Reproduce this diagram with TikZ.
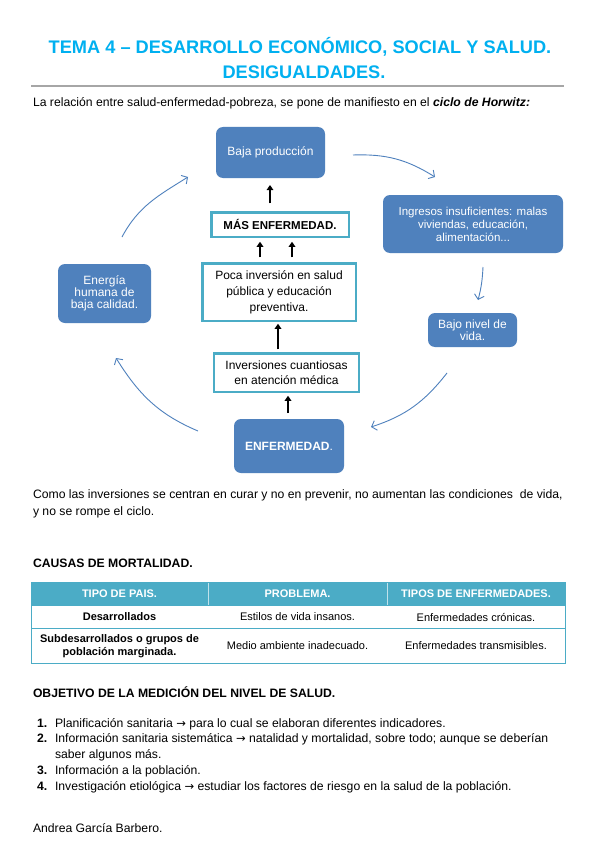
\documentclass[tikz,border=0pt]{standalone}
\usepackage{fontspec}
\setmainfont{Liberation Sans}
\newfontfamily\dejavu{DejaVu Sans}
\usetikzlibrary{arrows.meta,calc}
\definecolor{ttl}{HTML}{00B0F0}
\definecolor{sa}{HTML}{4F81BD}
\definecolor{tealb}{HTML}{4BACC6}
\definecolor{rulegray}{HTML}{A6A6A6}
\tikzset{
  sabox/.style={fill=sa, rounded corners=7pt, text=white, align=center,
    font=\fontsize{12}{12.2}\selectfont},
  tbox/.style={draw=tealb, line width=2.5pt, fill=white, align=center,
    font=\fontsize{12}{16}\selectfont},
  cyc/.style={draw=sa, line width=0.9pt, -{Straight Barb[length=4.5pt,width=10pt]}},
  blk/.style={line width=1.7pt, -{Triangle[length=5pt,width=6.5pt]}},
  body/.style={font=\fontsize{12.2}{14}\selectfont, anchor=base west},
  bodyb/.style={font=\fontsize{12.2}{14}\selectfont\bfseries, anchor=base west},
  ttlstyle/.style={font=\fontsize{18.2}{22}\selectfont\bfseries, text=ttl, anchor=base},
  thead/.style={font=\fontsize{11}{13}\selectfont\bfseries, text=white},
  tcell/.style={font=\fontsize{11}{12.5}\selectfont, align=center},
}
\newcommand{\rarr}{{\dejavu\fontsize{11.5}{12}\selectfont →}}
\begin{document}
\begin{tikzpicture}[x=1pt,y=1pt, every node/.style={inner sep=0pt, outer sep=0pt}]
\useasboundingbox (0,0) rectangle (599,-848);
\fill[white] (0,0) rectangle (599,-848);

% title
\node[ttlstyle] (t1) at (300,-53.5) {TEMA 4 – DESARROLLO ECONÓMICO, SOCIAL Y SALUD.};
\node[ttlstyle] (t2) at (304,-78.5) {DESIGUALDADES.};
\draw[rulegray, line width=2.2pt] (31,-86) -- (564,-86);

\node[body] (intro) at (33,-107) {La relación entre salud-enfermedad-pobreza, se pone de manifiesto en el \textbf{\textit{ciclo de Horwitz:}}};

% cycle boxes
\node[sabox, minimum width=109pt, minimum height=51pt] (bp) at (270.5,-152.5) {Baja producción};
\node[sabox, minimum width=180pt, minimum height=58pt, font=\fontsize{11.5}{13}\selectfont] (ing) at (473,-224) {Ingresos insuficientes: malas\\viviendas, educación,\\alimentación...};
\node[sabox, minimum width=89pt, minimum height=34pt] (bnv) at (472.5,-330) {Bajo nivel de\\vida.};
\node[sabox, minimum width=110pt, minimum height=54pt] (enf) at (289,-446) {\textbf{ENFERMEDAD}.};
\node[sabox, minimum width=93pt, minimum height=59pt] (ene) at (104.5,-293.5) {Energía\\humana de\\baja calidad.};

% inner boxes
\node[tbox, minimum width=137.5pt, minimum height=24.5pt, font=\fontsize{11.5}{13}\selectfont\bfseries] (mas) at (280,-224.5) {MÁS ENFERMEDAD.};
\node[tbox, minimum width=153.5pt, minimum height=57.5pt] (poca) at (279,-292) {Poca inversión en salud\\pública y educación\\preventiva.};
\node[tbox, minimum width=145pt, minimum height=38.5pt, font=\fontsize{12}{15}\selectfont] (inv) at (286.5,-372.5) {Inversiones cuantiosas\\en atención médica};

% black arrows
\coordinate (xa) at (270,0);
\coordinate (xb) at (260,0);
\coordinate (xc) at (292,0);
\coordinate (xd) at (278,0);
\coordinate (xe) at (288,0);
\draw[blk, shorten <=9pt, shorten >=7pt] (xa |- mas.north) -- (xa |- bp.south);
\draw[blk, shorten <=6pt, shorten >=5pt] (xb |- poca.north) -- (xb |- mas.south);
\draw[blk, shorten <=6pt, shorten >=5pt] (xc |- poca.north) -- (xc |- mas.south);
\draw[blk, shorten <=4pt, shorten >=3pt] (xd |- inv.north) -- (xd |- poca.south);
\draw[blk, shorten <=6pt, shorten >=4pt] (xe |- enf.north) -- (xe |- inv.south);

% cycle arrows
\draw[cyc] ($(ene.north)+(17.5,27)$) to[out=62,in=-148] ($(bp.west)+(-28,-24.5)$);
\draw[cyc] ($(bp.east)+(28,-2.5)$) to[out=2,in=148] ($(ing.north)+(-38,18)$);
\draw[cyc] ($(ing.south)+(10,-14)$) to[out=-93,in=75] ($(bnv.north)+(5.5,13)$);
\draw[cyc] ($(bnv.south)+(-25.5,-26)$) to[out=-128,in=18] ($(enf.east)+(27,19)$);
\draw[cyc] ($(enf.west)+(-36,15)$) to[out=157,in=-58] ($(ene.south)+(11.5,-35)$);

\node[body] (como1) at (33,-498) {Como las inversiones se centran en curar y no en prevenir, no aumentan las condiciones\ \ de vida,};
\node[body] (como2) at (33,-515) {y no se rompe el ciclo.};

% table
\node[bodyb] (causas) at (33,-567.5) {CAUSAS DE MORTALIDAD.};
\fill[tealb] (31,-582) rectangle (565,-605);
\draw[white!65!tealb, line width=0.6pt] (208,-582) -- (208,-605) (387,-582) -- (387,-605);
\draw[tealb, line width=0.9pt] (31,-605) -- (565,-605) (31,-628) -- (565,-628);
\draw[tealb, line width=0.9pt] (31,-582) rectangle (565,-663);
\node[thead] (h1) at (119.5,-593.5) {TIPO DE PAIS.};
\node[thead] (h2) at (297.5,-593.5) {PROBLEMA.};
\node[thead] (h3) at (476,-593.5) {TIPOS DE ENFERMEDADES.};
\node[tcell, font=\fontsize{11}{12.5}\selectfont\bfseries] (c11) at (119.5,-617) {Desarrollados};
\node[tcell] (c12) at (297.5,-617) {Estilos de vida insanos.};
\node[tcell] (c13) at (476,-617) {Enfermedades crónicas.};
\node[tcell, font=\fontsize{11}{12.5}\selectfont\bfseries] (c21) at (119.5,-646) {Subdesarrollados o grupos de\\población marginada.};
\node[tcell] (c22) at (297.5,-646) {Medio ambiente inadecuado.};
\node[tcell] (c23) at (476,-646) {Enfermedades transmisibles.};

% objective list
\node[bodyb] (obj) at (33,-697.5) {OBJETIVO DE LA MEDICIÓN DEL NIVEL DE SALUD.};
\node[bodyb] (n1) at (37,-727) {1.};
\node[body] (l1) at (55,-727) {Planificación sanitaria \rarr{} para lo cual se elaboran diferentes indicadores.};
\node[bodyb] (n2) at (37,-742.5) {2.};
\node[body] (l2) at (55,-742.5) {Información sanitaria sistemática \rarr{} natalidad y mortalidad, sobre todo; aunque se deberían};
\node[body] (l2b) at (55,-758.5) {saber algunos más.};
\node[bodyb] (n3) at (37,-774) {3.};
\node[body] (l3) at (55,-774) {Información a la población.};
\node[bodyb] (n4) at (37,-790) {4.};
\node[body] (l4) at (55,-790) {Investigación etiológica \rarr{} estudiar los factores de riesgo en la salud de la población.};

\node[body] (auth) at (33,-832) {Andrea García Barbero.};
\end{tikzpicture}
\end{document}
